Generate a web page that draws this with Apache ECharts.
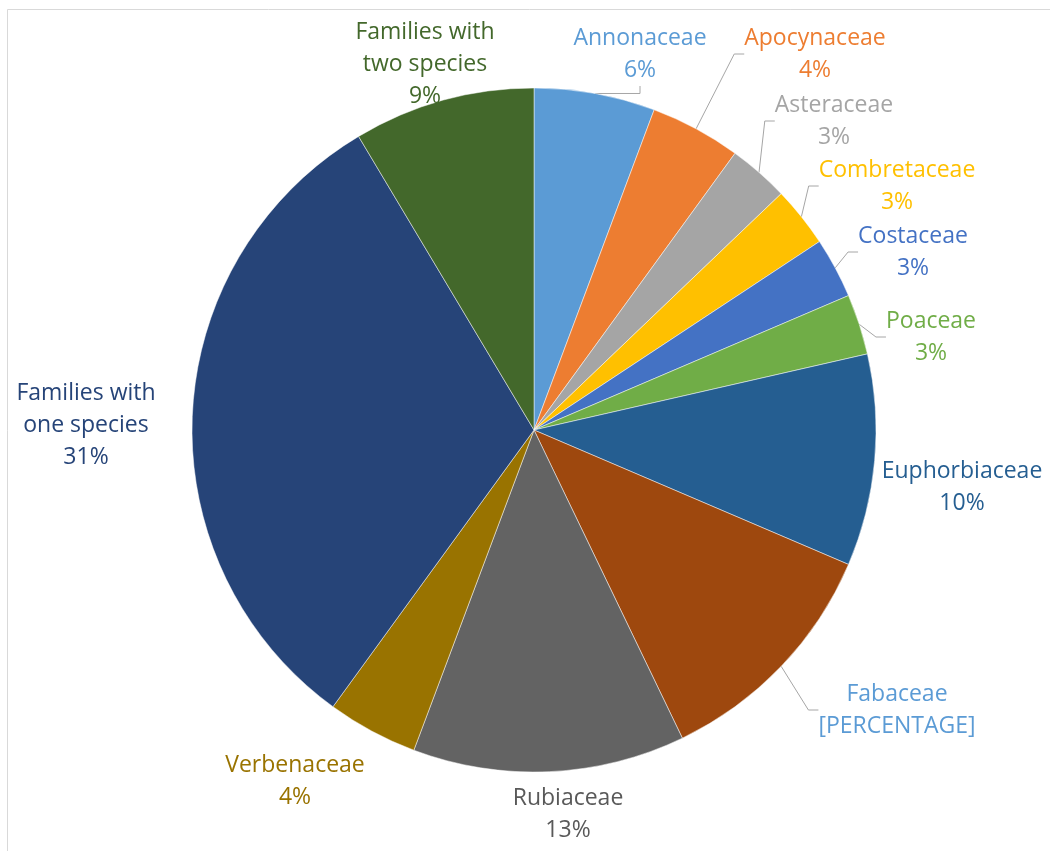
<!DOCTYPE html>
<html>
<head>
<meta charset="utf-8">
<script src="https://cdn.jsdelivr.net/npm/echarts@6/dist/echarts.min.js"></script>
<style>html,body{margin:0;padding:0;background:#fff;}#chart{width:1050px;height:851px;}</style>
</head>
<body>
<div id="chart"></div>
<script>
// Data (species counts per family group; total 70)
const categories = ['Annonaceae','Apocynaceae','Asteraceae','Combretaceae','Costaceae','Poaceae','Euphorbiaceae','Fabaceae','Rubiaceae','Verbenaceae','Families with\none species','Families with\ntwo species'];
const values = [4,3,2,2,2,2,7,8,9,3,22,6];
const percentText = [null,null,null,null,null,null,null,'[PERCENTAGE]',null,null,null,null];

// Styles
const sliceColors = ['#5B9BD5','#ED7D31','#A5A5A5','#FFC000','#4472C4','#70AD47','#255E91','#9E480E','#636363','#997300','#264478','#43682B'];
const labelColors = ['#5B9BD5','#ED7D31','#A5A5A5','#FFC000','#4472C4','#70AD47','#255E91','#5B9BD5','#595959','#997300','#264478','#43682B'];
const showLeader = [true,true,true,true,true,true,false,true,false,false,false,false];
const LABEL_POS = [[640,54],[815,54],[834,121],[897,186],[913,252],[931,337],[962,487],[897,710],[568,814],[295,781],[86,425],[425,64]];

const total = values.reduce((a,b)=>a+b,0);
const data = categories.map((c,i)=>({
  name: c,
  value: values[i],
  itemStyle: {color: sliceColors[i]},
  label: {color: labelColors[i]},
  labelLine: {show: showLeader[i]}
}));

const chart = echarts.init(document.getElementById('chart'), null, {renderer:'canvas'});
chart.setOption({
  backgroundColor: '#fff',
  animation: false,
  graphic: [{
    type: 'rect', silent: true,
    shape: {x: 7.5, y: 9.5, width: 1200, height: 1000},
    style: {fill: 'none', stroke: '#d9d9d9', lineWidth: 1}
  }],
  series: [{
    type: 'pie',
    center: [534, 430],
    radius: 342,
    startAngle: 90,
    clockwise: true,
    data: data,
    itemStyle: {borderColor: 'rgba(255,255,255,0.6)', borderWidth: 0.8},
    label: {
      show: true,
      position: 'outside',
      fontFamily: 'Open Sans',
      fontSize: 23,
      lineHeight: 32,
      align: 'center',
      overflow: 'none',
      formatter: function(p){
        const pct = percentText[p.dataIndex] || (Math.round(p.value/total*100) + '%');
        return p.name + '\n' + pct;
      }
    },
    labelLine: {show: true, length: 10, length2: 10, lineStyle: {color: '#a6a6a6', width: 1}},
    labelLayout: function(params){
      const p = LABEL_POS[params.dataIndex];
      return {x: p[0], y: p[1], align: 'center', verticalAlign: 'middle'};
    },
    emphasis: {disabled: true}
  }]
});
</script>
</body>
</html>
